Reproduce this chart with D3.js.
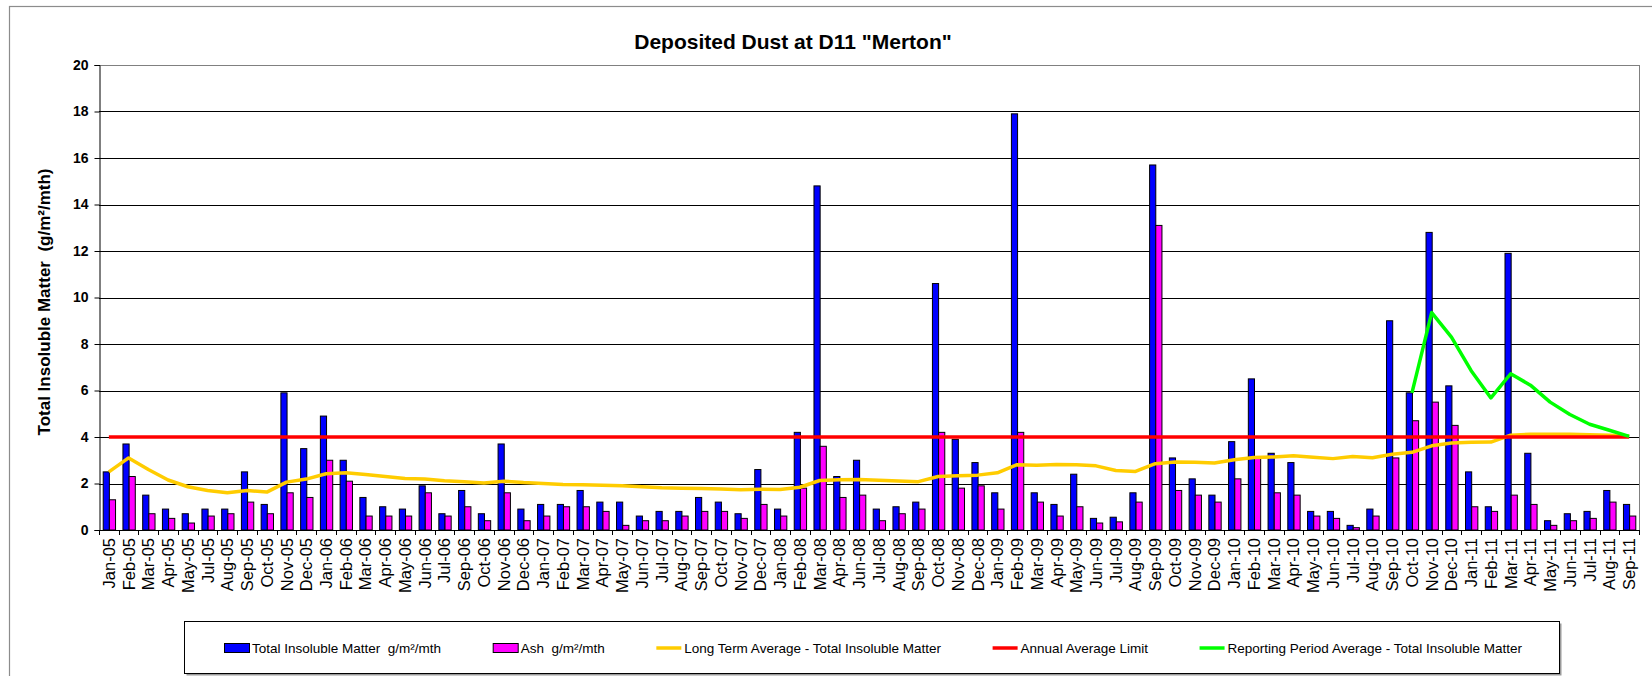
<!DOCTYPE html>
<html>
<head>
<meta charset="utf-8">
<script src="https://cdn.jsdelivr.net/npm/d3@7/dist/d3.min.js"></script>
<style>
  html, body { margin: 0; padding: 0; background: #fff; }
  svg { display: block; font-family: Arial, "Liberation Sans", sans-serif; }
</style>
</head>
<body>
<svg id="chart" width="1652" height="676"></svg>
<script>
const categories = [
  "Jan-05","Feb-05","Mar-05","Apr-05","May-05","Jul-05","Aug-05","Sep-05","Oct-05","Nov-05","Dec-05",
  "Jan-06","Feb-06","Mar-06","Apr-06","May-06","Jun-06","Jul-06","Sep-06","Oct-06","Nov-06","Dec-06",
  "Jan-07","Feb-07","Mar-07","Apr-07","May-07","Jun-07","Jul-07","Aug-07","Sep-07","Oct-07","Nov-07","Dec-07",
  "Jan-08","Feb-08","Mar-08","Apr-08","Jun-08","Jul-08","Aug-08","Sep-08","Oct-08","Nov-08","Dec-08",
  "Jan-09","Feb-09","Mar-09","Apr-09","May-09","Jun-09","Jul-09","Aug-09","Sep-09","Oct-09","Nov-09","Dec-09",
  "Jan-10","Feb-10","Mar-10","Apr-10","May-10","Jun-10","Jul-10","Aug-10","Sep-10","Oct-10","Nov-10","Dec-10",
  "Jan-11","Feb-11","Mar-11","Apr-11","May-11","Jun-11","Jul-11","Aug-11","Sep-11"
];

const totalInsoluble = [
  2.5,3.7,1.5,0.9,0.7,0.9,0.9,2.5,1.1,5.9,3.5,
  4.9,3.0,1.4,1.0,0.9,1.9,0.7,1.7,0.7,3.7,0.9,
  1.1,1.1,1.7,1.2,1.2,0.6,0.8,0.8,1.4,1.2,0.7,2.6,
  0.9,4.2,14.8,2.3,3.0,0.9,1.0,1.2,10.6,3.9,2.9,
  1.6,17.9,1.6,1.1,2.4,0.5,0.55,1.6,15.7,3.1,2.2,1.5,
  3.8,6.5,3.3,2.9,0.8,0.8,0.2,0.9,9.0,5.9,12.8,6.2,
  2.5,1.0,11.9,3.3,0.4,0.7,0.8,1.7,1.1
];

const ash = [
  1.3,2.3,0.7,0.5,0.3,0.6,0.7,1.2,0.7,1.6,1.4,
  3.0,2.1,0.6,0.6,0.6,1.6,0.6,1.0,0.4,1.6,0.4,
  0.6,1.0,1.0,0.8,0.2,0.4,0.4,0.6,0.8,0.8,0.5,1.1,
  0.6,1.8,3.6,1.4,1.5,0.4,0.7,0.9,4.2,1.8,1.9,
  0.9,4.2,1.2,0.6,1.0,0.3,0.35,1.2,13.1,1.7,1.5,1.2,
  2.2,3.1,1.6,1.5,0.6,0.5,0.1,0.6,3.1,4.7,5.5,4.5,
  1.0,0.8,1.5,1.1,0.2,0.4,0.5,1.2,0.6
];

const longTermAverage = [
  2.5,3.1,2.6,2.15,1.86,1.7,1.6,1.7,1.63,2.06,2.19,
  2.42,2.46,2.39,2.3,2.22,2.19,2.12,2.08,2.02,2.1,2.04,
  2.0,1.96,1.95,1.93,1.9,1.86,1.82,1.8,1.78,1.76,1.73,1.75,
  1.74,1.84,2.13,2.16,2.17,2.14,2.11,2.08,2.3,2.33,2.36,
  2.46,2.81,2.78,2.82,2.81,2.76,2.56,2.52,2.85,2.92,2.91,2.88,
  3.02,3.12,3.14,3.19,3.13,3.07,3.16,3.11,3.26,3.34,3.62,3.74,
  3.77,3.78,4.08,4.12,4.12,4.12,4.1,4.08,4.04
];

const annualAverageLimit = 4;

const reportingCategories = ["Oct-10","Nov-10","Dec-10","Jan-11","Feb-11","Mar-11","Apr-11","May-11","Jun-11","Jul-11","Aug-11","Sep-11"];
const reportingAverage = [5.9,9.35,8.3,6.85,5.68,6.72,6.23,5.5,4.97,4.55,4.29,4.03];

const yTicks = [0,2,4,6,8,10,12,14,16,18,20];

const titleText = 'Deposited Dust at D11 "Merton"';
const yAxisTitle = "Total Insoluble Matter  (g/m\u00B2/mth)";
const legendLabels = [
  "Total Insoluble Matter  g/m\u00B2/mth",
  "Ash  g/m\u00B2/mth",
  "Long Term Average - Total Insoluble Matter",
  "Annual Average Limit",
  "Reporting Period Average - Total Insoluble Matter"
];

const COL = { total: "#0000FF", ash: "#FF00FF", lta: "#FFCC00", limit: "#FF0000", rpa: "#00FF00" };

const svg = d3.select("#chart");
const L = 99, R = 1639, T = 65, B = 530;

// outer chart border
svg.append("rect").attr("x", 9.5).attr("y", 6.5).attr("width", 1700).attr("height", 700)
  .attr("fill", "#fff").attr("stroke", "#8c8c8c").attr("stroke-width", 1.2);

const x = d3.scaleBand().domain(categories).range([L, R]).paddingInner(0).paddingOuter(0);
const xs = d3.scaleBand().domain(["total","ash"]).range([0, x.bandwidth()]).paddingInner(0).paddingOuter(0.6);
const y = d3.scaleLinear().domain([0, 20]).range([B, T]);

// gridlines
svg.append("g").selectAll("line").data(yTicks.filter(t => t > 0))
  .join("line")
  .attr("x1", L).attr("x2", R)
  .attr("y1", d => Math.round(y(d)) + 0.5).attr("y2", d => Math.round(y(d)) + 0.5)
  .attr("stroke", d => d === 20 ? "#808080" : "#000").attr("stroke-width", 1);

// right border of plot
svg.append("line").attr("x1", R + 0.5).attr("x2", R + 0.5).attr("y1", T).attr("y2", B)
  .attr("stroke", "#808080").attr("stroke-width", 1);

// bars
const gBars = svg.append("g");
categories.forEach((c, i) => {
  gBars.append("rect")
    .attr("x", x(c) + xs("total") + 0.5).attr("width", xs.bandwidth())
    .attr("y", y(totalInsoluble[i])).attr("height", B - y(totalInsoluble[i]))
    .attr("fill", COL.total).attr("stroke", "#000").attr("stroke-width", 1);
  gBars.append("rect")
    .attr("x", x(c) + xs("ash") + 0.5).attr("width", xs.bandwidth())
    .attr("y", y(ash[i])).attr("height", B - y(ash[i]))
    .attr("fill", COL.ash).attr("stroke", "#000").attr("stroke-width", 1);
});

const cx = c => x(c) + x.bandwidth() / 2;

// long-term average line
svg.append("path")
  .datum(categories.map((c, i) => [cx(c), y(longTermAverage[i])]))
  .attr("d", d3.line())
  .attr("fill", "none").attr("stroke", COL.lta).attr("stroke-width", 3.5).attr("stroke-linejoin", "round");

// annual average limit line
svg.append("path")
  .datum([[cx(categories[0]), y(annualAverageLimit)], [cx(categories[categories.length - 1]), y(annualAverageLimit)]])
  .attr("d", d3.line())
  .attr("fill", "none").attr("stroke", COL.limit).attr("stroke-width", 3.5);

// reporting period average line
svg.append("path")
  .datum(reportingCategories.map((c, i) => [cx(c), y(reportingAverage[i])]))
  .attr("d", d3.line())
  .attr("fill", "none").attr("stroke", COL.rpa).attr("stroke-width", 3.5).attr("stroke-linejoin", "round");

// axes
const yAxis = d3.axisLeft(y).tickValues(yTicks).tickSize(5).tickPadding(6);
const gy = svg.append("g").attr("transform", `translate(${L + 0.5},0)`).call(yAxis);
gy.select(".domain").attr("stroke", "#000");
gy.selectAll(".tick line").attr("stroke", "#000");
gy.selectAll(".tick text").attr("font-size", 14).attr("font-weight", "bold").attr("fill", "#000")
  .attr("font-family", "Arial, 'Liberation Sans', sans-serif");

// x axis line + ticks at band boundaries
svg.append("line").attr("x1", L).attr("x2", R).attr("y1", B + 0.5).attr("y2", B + 0.5).attr("stroke", "#000");
const boundaries = categories.map(c => x(c)).concat([R]);
svg.append("g").selectAll("line").data(boundaries).join("line")
  .attr("x1", d => Math.round(d) + 0.5).attr("x2", d => Math.round(d) + 0.5)
  .attr("y1", B).attr("y2", B + 5).attr("stroke", "#000");

// x labels
svg.append("g").selectAll("text").data(categories).join("text")
  .attr("transform", c => `translate(${cx(c)},${B + 8}) rotate(-90)`)
  .attr("text-anchor", "end").attr("dy", "0.36em")
  .attr("font-size", 16.5).attr("fill", "#000")
  .text(c => c);

// title
svg.append("text").attr("x", 793).attr("y", 49).attr("text-anchor", "middle")
  .attr("font-size", 21).attr("font-weight", "bold").text(titleText);

// y axis title
svg.append("text").attr("transform", `translate(50,302) rotate(-90)`)
  .attr("text-anchor", "middle").attr("font-size", 17).attr("font-weight", "bold")
  .style("white-space", "pre").text(yAxisTitle);

// legend
const lg = svg.append("g");
lg.append("rect").attr("x", 186.5).attr("y", 623.5).attr("width", 1375).attr("height", 52)
  .attr("fill", "#9a9a9a");
lg.append("rect").attr("x", 184.5).attr("y", 621.5).attr("width", 1375).attr("height", 52)
  .attr("fill", "#fff").attr("stroke", "#000").attr("stroke-width", 1);
const legendKinds = ["rect","rect","line","line","line"];
const legendCols = [COL.total, COL.ash, COL.lta, COL.limit, COL.rpa];
const ly = 648;
const items = lg.selectAll("g.item").data(legendLabels).join("g").attr("class", "item");
items.append("text").attr("font-size", 13.5).attr("dy", "0.35em").attr("y", ly)
  .style("white-space", "pre").text(d => d);
const widths = [];
items.each(function() { widths.push(d3.select(this).select("text").node().getComputedTextLength()); });
const sw = 25, sg = 3;
const startX = 224, endX = 1522;
const totalW = d3.sum(widths) + legendLabels.length * (sw + sg);
const gap = (endX - startX - totalW) / (legendLabels.length - 1);
let cur = startX;
items.each(function(d, i) {
  const g = d3.select(this);
  if (legendKinds[i] === "rect") {
    g.append("rect").attr("x", cur + 0.5).attr("y", ly - 4.5).attr("width", sw).attr("height", 9)
      .attr("fill", legendCols[i]).attr("stroke", "#000");
  } else {
    g.append("line").attr("x1", cur).attr("x2", cur + sw).attr("y1", ly).attr("y2", ly)
      .attr("stroke", legendCols[i]).attr("stroke-width", 3.5);
  }
  g.select("text").attr("x", cur + sw + sg);
  cur += sw + sg + widths[i] + gap;
});
</script>
</body>
</html>
